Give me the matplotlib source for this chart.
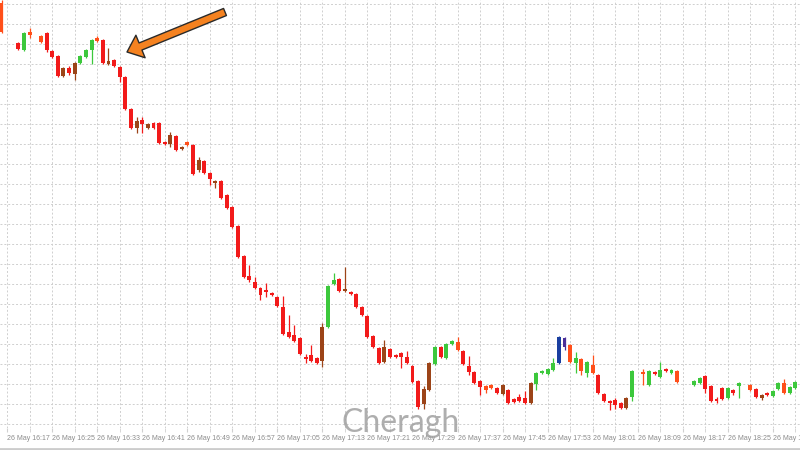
import matplotlib
matplotlib.use("Agg")
import matplotlib.pyplot as plt
from matplotlib.lines import Line2D

# one-minute bars, 26 May
times = """16:16 16:19 16:20 16:21 16:23 16:24 16:25 16:26 16:27 16:28
16:29 16:30 16:31 16:32 16:33 16:34 16:35 16:36 16:37 16:38
16:39 16:40 16:41 16:42 16:43 16:44 16:45 16:46 16:47 16:48
16:49 16:50 16:51 16:52 16:53 16:54 16:55 16:56 16:57 16:58
16:59 17:00 17:01 17:02 17:03 17:04 17:05 17:06 17:07 17:08
17:09 17:10 17:11 17:12 17:13 17:14 17:15 17:16 17:17 17:18
17:19 17:20 17:21 17:22 17:23 17:24 17:25 17:26 17:27 17:28
17:29 17:30 17:31 17:32 17:33 17:34 17:35 17:36 17:37 17:38
17:39 17:40 17:41 17:42 17:43 17:44 17:45 17:46 17:47 17:48
17:49 17:50 17:51 17:52 17:53 17:54 17:55 17:56 17:57 17:58
17:59 18:00 18:01 18:02 18:03 18:04 18:05 18:06 18:07 18:08
18:10 18:11 18:12 18:13 18:14 18:15 18:16
18:19 18:20 18:21 18:22 18:23 18:24 18:25 18:26 18:27
18:29 18:30 18:31 18:32 18:33 18:34 18:35 18:36 18:37""".split()

opens = [447, 407, 400, 418, 414, 417, 399, 394, 374, 382,
         376, 387, 393, 400, 412, 410, 386, 390, 383, 373,
         341, 322, 330, 322, 327, 327, 308, 306, 314, 301,
         308, 305, 280, 289, 277, 267, 269, 255, 243, 224,
         194, 174, 168, 162, 160, 157, 153, 143, 118, 115,
         112, 93, 95, 92, 89, 123, 166, 171, 159, 158,
         156, 143, 134, 114, 102, 88, 101, 95, 97, 93,
         84, 69, 46, 60, 86, 103, 92, 106, 108, 99,
         84, 78, 69, 64, 65, 62, 56, 60, 51, 53,
         52, 47, 66, 77, 76, 80, 87, 103, 105, 87,
         91, 77, 85, 75, 56, 49, 50, 47, 42, 53,
         78, 65, 78, 73, 81, 77, 79,
         65, 67, 74, 64, 51, 62, 52, 60, 64,
         65, 61, 52, 57, 54, 61, 67, 57, 62]

highs = [450, 408, 418, 422, 415, 418, 400, 395, 383, 384,
         388, 395, 401, 411, 414, 411, 402, 391, 384, 374,
         342, 333, 333, 327, 328, 328, 309, 318, 315, 304,
         309, 306, 293, 290, 278, 270, 270, 256, 244, 225,
         195, 185, 173, 163, 167, 158, 154, 154, 135, 125,
         113, 96, 105, 93, 127, 165, 177, 172, 183, 159,
         157, 144, 135, 115, 103, 110, 102, 96, 98, 99,
         85, 70, 64, 88, 104, 104, 107, 110, 113, 100,
         94, 79, 70, 65, 66, 63, 66, 61, 52, 56,
         59, 68, 78, 80, 82, 92, 114, 113, 106, 98,
         92, 89, 95, 76, 57, 50, 52, 48, 53, 80,
         81, 80, 79, 88, 82, 81, 80,
         70, 73, 75, 65, 53, 63, 63, 61, 68,
         66, 62, 56, 58, 60, 68, 71, 64, 69]

lows = [417, 400, 399, 412, 407, 398, 392, 373, 373, 375,
        370, 386, 392, 386, 408, 386, 385, 383, 368, 340,
        321, 317, 317, 321, 321, 306, 305, 303, 299, 300,
        304, 275, 278, 276, 265, 262, 251, 241, 222, 192,
        172, 168, 161, 150, 153, 154, 143, 115, 112, 108,
        95, 87, 88, 86, 83, 122, 165, 158, 158, 155,
        142, 134, 112, 102, 86, 87, 92, 92, 82, 86,
        67, 41, 41, 59, 85, 92, 91, 105, 99, 85,
        75, 66, 55, 57, 61, 56, 55, 46, 47, 48,
        46, 46, 60, 76, 75, 79, 86, 100, 87, 77,
        75, 73, 76, 56, 48, 40, 41, 41, 41, 49,
        65, 64, 75, 72, 78, 76, 67,
        64, 66, 57, 48, 47, 50, 51, 55, 52,
        59, 52, 50, 54, 53, 60, 56, 56, 61]

closes = [418, 401, 417, 415, 408, 400, 393, 374, 382, 377,
          387, 394, 400, 410, 409, 387, 389, 384, 373, 341,
          322, 329, 326, 326, 322, 307, 306, 315, 300, 303,
          305, 276, 290, 277, 271, 269, 252, 242, 223, 193,
          173, 170, 162, 155, 158, 155, 144, 116, 113, 109,
          96, 91, 89, 87, 123, 164, 170, 159, 161, 156,
          143, 135, 113, 103, 87, 103, 93, 93, 93, 87,
          68, 43, 61, 87, 103, 93, 106, 109, 100, 86,
          78, 67, 63, 60, 62, 57, 65, 47, 48, 49,
          47, 67, 77, 79, 81, 87, 113, 112, 88, 92,
          79, 88, 77, 57, 49, 47, 45, 42, 52, 79,
          76, 79, 76, 80, 79, 80, 68,
          69, 72, 61, 49, 49, 51, 62, 57, 67,
          60, 53, 55, 55, 59, 67, 57, 63, 68]

# bar colour class from the chart's indicator
kinds = """o r g o o r r r b r
b g g g o r b r r r
r b r b r r r b r b
o r b r r b r r r r
r r r r r r r r r r
r r r r b g g r b r
r r r r r b r r r r
r r b b g r g g o r
r r r o o r b r r r
r b g g g g k p o g
o g o r r r r r b g
o g r g r g o
g g r r r r g r g
o r b r g g o g g""".split()

tick_times = ["16:17", "16:25", "16:33", "16:41", "16:49", "16:57", "17:05",
              "17:13", "17:21", "17:29", "17:37", "17:45", "17:53", "18:01",
              "18:09", "18:17", "18:25", "18:33"]

assert len(times) == len(opens) == len(highs) == len(lows) == len(closes) == len(kinds)

palette = {"r": "#F21A1A", "o": "#FF4F1A", "g": "#3CC83C", "b": "#9C4418",
           "k": "#1A3FA0", "p": "#4A2F9A"}


def to_min(t):
    h, m = t.split(":")
    return int(h) * 60 + int(m) - 16 * 60


x = [to_min(t) for t in times]
cols = [palette[k] for k in kinds]
bottoms = [min(o, c) for o, c in zip(opens, closes)]
heights = [max(abs(c - o), 1.5) for o, c in zip(opens, closes)]

fig = plt.figure(figsize=(8, 4.5), dpi=100)
fig.patch.set_facecolor("white")
ax = fig.add_axes([0, 0.05, 1, 0.95])

ax.vlines(x, lows, highs, colors=cols, lw=0.9, zorder=2)
ax.bar(x, heights, bottom=bottoms, width=0.7, color=cols, zorder=3)

ax.set_xlim(15.73, 157.83)
ax.set_ylim(22.5, 450)

major = [to_min(t) for t in tick_times]
ax.set_xticks(major)
ax.set_xticklabels(["26 May " + t for t in tick_times])
ax.set_xticks([m + 4 for m in major], minor=True)
ax.set_yticks(range(26, 450, 20))
ax.tick_params(axis="x", which="both", length=3, color="#d0d0d0",
               labelsize=5, labelcolor="#8c8c8c", pad=2.5)
ax.tick_params(axis="y", left=False, labelleft=False)
for lbl in ax.get_xticklabels():
    lbl.set_ha("left")
    lbl.set_family("Liberation Sans")

ax.grid(True, which="both", color="#cfcfcf", lw=0.7, ls=(0, (2, 2)), zorder=0)
for s in ax.spines.values():
    s.set_visible(False)

# bottom window border
fig.add_artist(Line2D([0, 1], [0.003, 0.003], color="#cccccc", lw=2))

# watermark
fig.text(401 / 800, 18 / 450, "Cheragh", family="Lato", fontsize=23,
         color="#a0a0a0", alpha=0.85, ha="center", va="baseline")

# arrow pointing at the start of the drop
ax.annotate("", xy=(127, 398), xytext=(225, 438),
            xycoords="figure pixels", textcoords="figure pixels",
            arrowprops=dict(arrowstyle="simple,head_length=1.05,head_width=1.75,tail_width=0.55",
                            fc="#F58220", ec="#2a2a2a", lw=1, shrinkA=0, shrinkB=0,
                            mutation_scale=10),
            zorder=5)

fig.savefig("out.png", dpi=100)
